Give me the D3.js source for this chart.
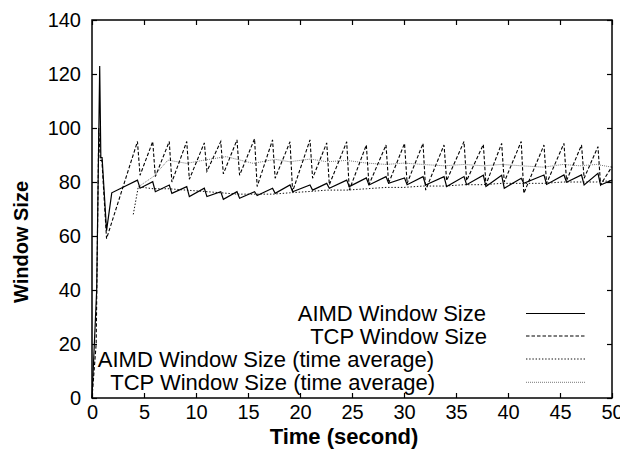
<!DOCTYPE html>
<html><head><meta http-equiv="Content-Type" content="text/html; charset=UTF-8"><title>AIMD vs TCP window size</title>
<script src="https://cdn.jsdelivr.net/npm/d3@7"></script>
<style>
	body	{ margin:0; background:#fff; }
	svg	{ display:block; }
	text	{ font-family:"Liberation Sans", Arial, Helvetica, sans-serif; fill:#000; }
</style>
</head><body>
<svg id="chart" width="620" height="455"></svg>
<script>
// values: [time (s), window size]
var aimdWindow=[[0,0],[0.45,40],[0.74,123],[0.85,89],[0.97,89],[1.4,62],[1.9,76],
	[4.37,80.7],[4.62,77.7],[5.84,80.1],[6.09,76.4],[7.43,78.9],[7.68,75.8],[9.11,78.3],[9.36,74.6],
	[10.8,77.7],[11.05,74.6],[12.38,76.4],[12.63,73.6],[13.94,76.4],[14.19,74],[15.63,76.4],[15.88,75],
	[17.36,77.7],[17.61,75.8],[19.04,78.9],[19.29,76.4],[20.96,78.9],[21.21,77],[22.57,79.5],[22.82,77.7],
	[24.49,80.7],[24.74,78.3],[26.38,81.5],[26.63,78.9],[28.27,82],[28.52,79.5],[30.05,81.5],[30.3,79],
	[31.83,82],[32.08,78.9],[33.85,82],[34.1,78.3],[35.77,82],[36.02,79],[37.63,82.5],[37.88,78.3],
	[39.39,82.5],[39.64,77.7],[41.27,81.4],[41.52,79.5],[43.46,82.6],[43.71,79.1],[45.38,82.6],[45.63,79.9],
	[47.07,82.6],[47.32,78.9],[48.65,83.2],[48.9,78.9],[50,80.7]];
var tcpWindow=[[0,0],[0.4,20],[0.65,100],[0.8,88],[0.95,88],[1.4,59],
	[4.37,95],[4.62,82.5],[5.84,95],[6.09,82],[7.43,95],[7.68,80],[9.11,95],[9.36,81],
	[10.8,94.5],[11.05,84],[12.38,95],[12.63,83],[13.94,95.6],[14.19,82.5],[15.63,96],[15.88,78.3],
	[17.36,95.6],[17.61,81.4],[19.04,94.9],[19.29,76.5],[20.96,95.6],[21.21,81.4],[22.57,94.5],[22.82,79],
	[24.49,94.9],[24.74,77],[26.38,93.7],[26.63,79],[28.27,93.7],[28.52,79.5],[30.05,94.3],[30.3,79.5],
	[31.83,94.3],[32.08,77],[33.85,93.7],[34.1,80.5],[35.77,95],[36.02,80.5],[37.63,93.9],[37.88,79],
	[39.39,94.3],[39.64,80],[41.27,95],[41.52,75.8],[43.46,93.7],[43.71,79.5],[45.38,94.3],[45.63,80.5],
	[47.07,93.7],[47.32,81.4],[48.65,93.1],[48.9,79],[50,85.7]];
var aimdAverage=[[3.97,68],[4.45,78.2],[5.9,77.5],[7.4,77.5],[9,77],[10.8,76.5],[12.4,76],[14,75.5],
	[15.6,75.5],[17.4,75.5],[19,76],[21,76.5],[22.6,77],[24.5,77],[26.4,77.5],[28.3,78],[30,78],[31.8,78.5],
	[33.9,78.5],[35.8,79],[37.6,79],[39.4,79.5],[41.3,79.5],[43.4,79.5],[45.3,80],[46.9,80],[48.5,80],[50,80.5]];
var tcpAverage=[[4.45,78.2],[5.9,82],[7.3,88.1],[9.1,86.9],[10.8,88.1],[12.9,89.4],[15.5,86.9],[17.6,88.4],
	[19,87.5],[21,88.5],[22.6,87.5],[24.5,88],[26.4,87],[28.3,86.5],[30,87],[31.8,86.5],[33.9,86],[35.8,86.5],
	[37.6,86],[39.4,86.5],[41.3,86],[43.4,85.5],[45.3,86.5],[46.9,86],[48.5,86.5],[50,85.5]];
var xTicks=[0,5,10,15,20,25,30,35,40,45,50];
var yTicks=[0,20,40,60,80,100,120,140];
var legendLabels=["AIMD Window Size","TCP Window Size","AIMD Window Size (time average)","TCP Window Size (time average)"];

var L=92, R=612, T=20, B=398;
var svg=d3.select('#chart');
var x=d3.scaleLinear().domain([0,50]).range([L,R]);
var y=d3.scaleLinear().domain([0,140]).range([B,T]);

// styles for the four series, same order as legendLabels
var styles=[
	{data:aimdWindow, w:1.2, dash:null, c:'#000'},
	{data:tcpWindow, w:1.1, dash:'3.5,2', c:'#000'},
	{data:aimdAverage, w:1, dash:'1.4,1.8', c:'#111'},
	{data:tcpAverage, w:0.8, dash:'1,1', c:'#555'}
];

// axes with inward ticks on all four sides
function tidy(g){ g.select('.domain').remove(); g.selectAll('line').attr('stroke','#000').attr('stroke-width',1.2); }
svg.append('g').attr('transform','translate(0,'+B+')')
	.call(d3.axisBottom(x).tickValues(xTicks).tickSize(-5).tickPadding(7))
	.call(tidy).selectAll('text').style('font-size','20px');
svg.append('g').attr('transform','translate(0,'+T+')')
	.call(d3.axisTop(x).tickValues(xTicks).tickSize(-5).tickFormat('')).call(tidy);
svg.append('g').attr('transform','translate('+L+',0)')
	.call(d3.axisLeft(y).tickValues(yTicks).tickSize(-5).tickPadding(11))
	.call(tidy).selectAll('text').style('font-size','20px');
svg.append('g').attr('transform','translate('+R+',0)')
	.call(d3.axisRight(y).tickValues(yTicks).tickSize(-5).tickFormat('')).call(tidy);

var line=d3.line().x(function(d){return x(d[0]);}).y(function(d){return y(d[1]);});
styles.slice().reverse().forEach(function(s){
	svg.append('path').datum(s.data).attr('d',line)
		.attr('fill','none').attr('stroke',s.c).attr('stroke-width',s.w)
		.attr('stroke-dasharray',s.dash).attr('stroke-linejoin','miter');
});

svg.append('rect').attr('x',L).attr('y',T).attr('width',R-L).attr('height',B-T)
	.attr('fill','none').attr('stroke','#000').attr('stroke-width',1.5);

// legend
var legY=[313.5,336,359,382.3], legEnd=[486,487,434,435];
legendLabels.forEach(function(t,i){
	svg.append('text').attr('x',legEnd[i]).attr('y',legY[i]+7.8).attr('text-anchor','end')
		.style('font-size','22px').text(t);
	svg.append('line').attr('x1',526).attr('x2',585).attr('y1',legY[i]).attr('y2',legY[i])
		.attr('stroke',styles[i].c).attr('stroke-width',styles[i].w).attr('stroke-dasharray',styles[i].dash);
});

svg.append('text').attr('x',344).attr('y',444).attr('text-anchor','middle')
	.style('font-size','22px').style('font-weight','bold').text('Time (second)');
svg.append('text').attr('transform','translate(28,242) rotate(-90)').attr('text-anchor','middle')
	.style('font-size','20px').style('font-weight','bold').text('Window Size');
</script>
</body></html>
